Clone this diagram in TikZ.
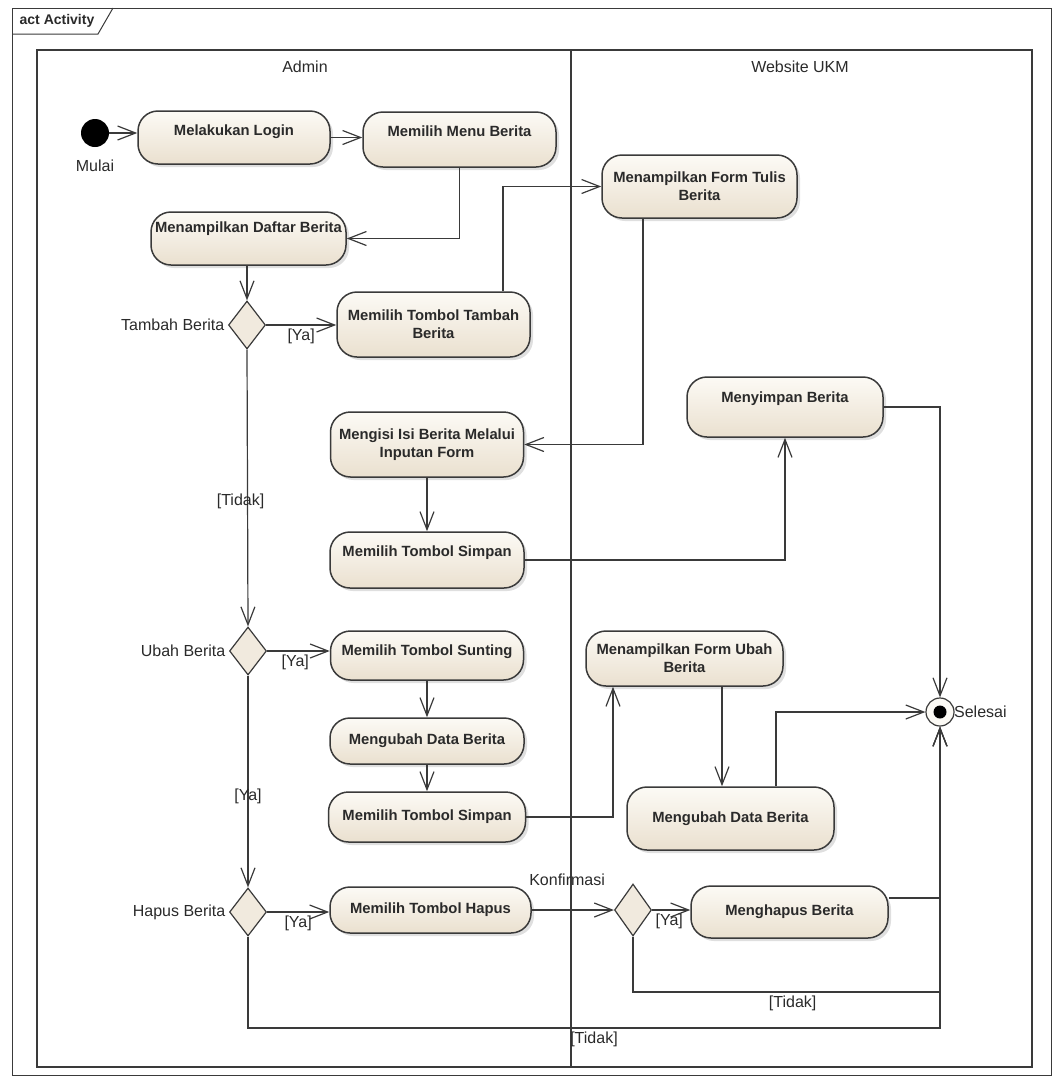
\documentclass[tikz,border=0pt]{standalone}
\usepackage{fontspec}
\setmainfont{Liberation Sans}
\usepackage{xcolor}
\usetikzlibrary{arrows.meta, positioning, shapes.geometric, shadows}

\definecolor{linegray}{HTML}{3A3A3A}
\definecolor{boxtop}{HTML}{FCFAF5}
\definecolor{boxbot}{HTML}{EAE0CF}
\definecolor{txtgray}{HTML}{2A2A2A}

\begin{document}
\begin{tikzpicture}[x=1pt, y=-1pt,
  act/.style={draw=linegray, line width=1.5pt, rounded corners=20pt, top color=boxtop, bottom color=boxbot,
    drop shadow={shadow xshift=3pt, shadow yshift=-3pt, opacity=0.25},
    font=\fontsize{14.8}{18}\selectfont\bfseries, text=txtgray, align=center, inner sep=2pt},
  decision/.style={diamond, draw=linegray, line width=1.2pt, fill=boxtop!40!boxbot,
    minimum width=37pt, minimum height=48pt, inner sep=0pt, aspect=0.75},
  start/.style={circle, fill=black, minimum size=28pt, inner sep=0pt},
  final/.style={circle, draw=linegray, line width=1.2pt, fill=boxtop, minimum size=28pt, inner sep=0pt,
    path picture={\fill[black] (path picture bounding box.center) circle (6.5pt);}},
  flow/.style={draw=linegray, line width=1.2pt, -{Straight Barb[length=18pt, width=14pt]}},
  lbl/.style={font=\fontsize{16}{18}\selectfont, text=txtgray},
]

\useasboundingbox (0,0) rectangle (1054,1077);

% Frame and swimlanes
\draw[linegray, line width=1pt] (12,8) rectangle (1051,1075);
\draw[linegray, line width=1pt] (12,34) -- (98,34) -- (113,8);
\node[font=\fontsize{14}{16}\selectfont\bfseries, text=txtgray] at (57,21) {act Activity};
\draw[linegray, line width=1.2pt] (37,50) rectangle (1032,1067);
\draw[linegray, line width=1.2pt] (571,50) -- (571,1067);
\node[lbl] at (305,67) {Admin};
\node[lbl] at (800,67) {Website UKM};

% Start and end
\node[start, label={[lbl, label distance=9pt]below:Mulai}] (mulai) at (95,133) {};
\node[final, label={[lbl, label distance=-4pt]right:Selesai}] (selesai) at (940,712) {};

% Activities
\node[act, minimum width=192pt, minimum height=53pt, text depth=15pt] (login) at (234,137.5) {Melakukan Login};
\node[act, minimum width=193pt, minimum height=55pt, text depth=16pt] (menu) at (459.5,139.5) {Memilih Menu Berita};
\node[act, minimum width=195pt, minimum height=53pt, text depth=22pt] (daftar) at (248.5,238.5) {Menampilkan Daftar Berita};
\node[act, minimum width=195pt, minimum height=63pt] (formtulis) at (699.5,186.5) {Menampilkan Form Tulis\\Berita};
\node[act, minimum width=193pt, minimum height=65pt] (tomboltambah) at (433.5,324.5) {Memilih Tombol Tambah\\Berita};
\node[act, minimum width=196pt, minimum height=60pt, text depth=20pt] (menyimpan) at (785,407) {Menyimpan Berita};
\node[act, minimum width=193pt, minimum height=65pt] (mengisi) at (427,444.5) {Mengisi Isi Berita Melalui\\Inputan Form};
\node[act, minimum width=194pt, minimum height=56pt, text depth=17pt] (simpanA) at (427,560) {Memilih Tombol Simpan};
\node[act, minimum width=193pt, minimum height=49pt, text depth=10pt] (sunting) at (427,655.5) {Memilih Tombol Sunting};
\node[act, minimum width=197pt, minimum height=55pt] (formubah) at (684.5,658.5) {Menampilkan Form Ubah\\Berita};
\node[act, minimum width=194pt, minimum height=46pt] (ubahdata) at (427,741) {Mengubah Data Berita};
\node[act, minimum width=197pt, minimum height=50pt] (simpanB) at (427,817) {Memilih Tombol Simpan};
\node[act, minimum width=207pt, minimum height=63pt] (ubahdataweb) at (730.5,818.5) {Mengubah Data Berita};
\node[act, minimum width=201pt, minimum height=46pt] (tombolhapus) at (430.5,910) {Memilih Tombol Hapus};
\node[act, minimum width=197pt, minimum height=52pt] (menghapus) at (789.5,912) {Menghapus Berita};

% Decisions
\node[decision, label={[lbl]left:Tambah Berita}] (tambah) at (247,325) {};
\node[decision, label={[lbl]left:Ubah Berita}] (ubah) at (248,651) {};
\node[decision, label={[lbl]left:Hapus Berita}] (hapus) at (248,912) {};
\node[decision, minimum height=52pt] (konfirmasi) at (633,910) {};

% Bends
\coordinate (tidakA) at (940,992);
\coordinate (tidakB) at (940,1028);

% Flows
\draw[flow] (mulai.east) -- (mulai.east -| login.west);
\draw[flow] (login.east) -- (login.east -| menu.west);
\draw[flow] (menu.south) |- (daftar.east);
\draw[flow] (tambah |- daftar.south) -- (tambah.north);
\draw[flow] (tambah.east) -- node[lbl, below, pos=0.5] {[Ya]} (tambah.east -| tomboltambah.west);
\draw[flow] ([xshift=69.5pt]tomboltambah.north) |- (formtulis.west);
\draw[flow] ([xshift=-56.5pt]formtulis.south) |- (mengisi.east);
\draw[flow] (mengisi.south) -- (simpanA.north);
\draw[flow] (simpanA.east) -| (menyimpan.south);
\draw[flow] (menyimpan.east) -| (selesai.north);
\draw[flow] (tambah.south) -- node[lbl, pos=0.55, xshift=-7pt] {[Tidak]} (ubah.north);
\draw[flow] (ubah.east) -- node[lbl, below, pos=0.45] {[Ya]} (ubah.east -| sunting.west);
\draw[flow] (sunting.south) -- (ubahdata.north);
\draw[flow] (ubahdata.south) -- (simpanB.north);
\draw[flow] (simpanB.east) -| ([xshift=-71.5pt]formubah.south);
\draw[flow] ([xshift=37.5pt]formubah.south) -- ([xshift=37.5pt]formubah.south |- ubahdataweb.north);
\draw[flow] ([xshift=45.5pt]ubahdataweb.north) |- (selesai.west);
\draw[flow] (ubah.south) -- node[lbl, pos=0.57] {[Ya]} (hapus.north);
\draw[flow] (hapus.east) -- node[lbl, below, pos=0.5] {[Ya]} (hapus.east -| tombolhapus.west);
\draw[flow] (tombolhapus.east) -- node[lbl, above=20pt, pos=0.43] {Konfirmasi} (konfirmasi.west);
\draw[flow] (konfirmasi.east) -- node[lbl, below, pos=0.45] {[Ya]} (konfirmasi.east -| menghapus.west);
\draw[flow] ([yshift=14pt]menghapus.east) -| (selesai.south);
\draw[flow] (konfirmasi.south) |- node[lbl, below, pos=0.76] {[Tidak]} (tidakA) -- (selesai.south);
\draw[flow] (hapus.south) |- node[lbl, below, pos=0.75] {[Tidak]} (tidakB) -- (selesai.south);

\end{tikzpicture}
\end{document}
